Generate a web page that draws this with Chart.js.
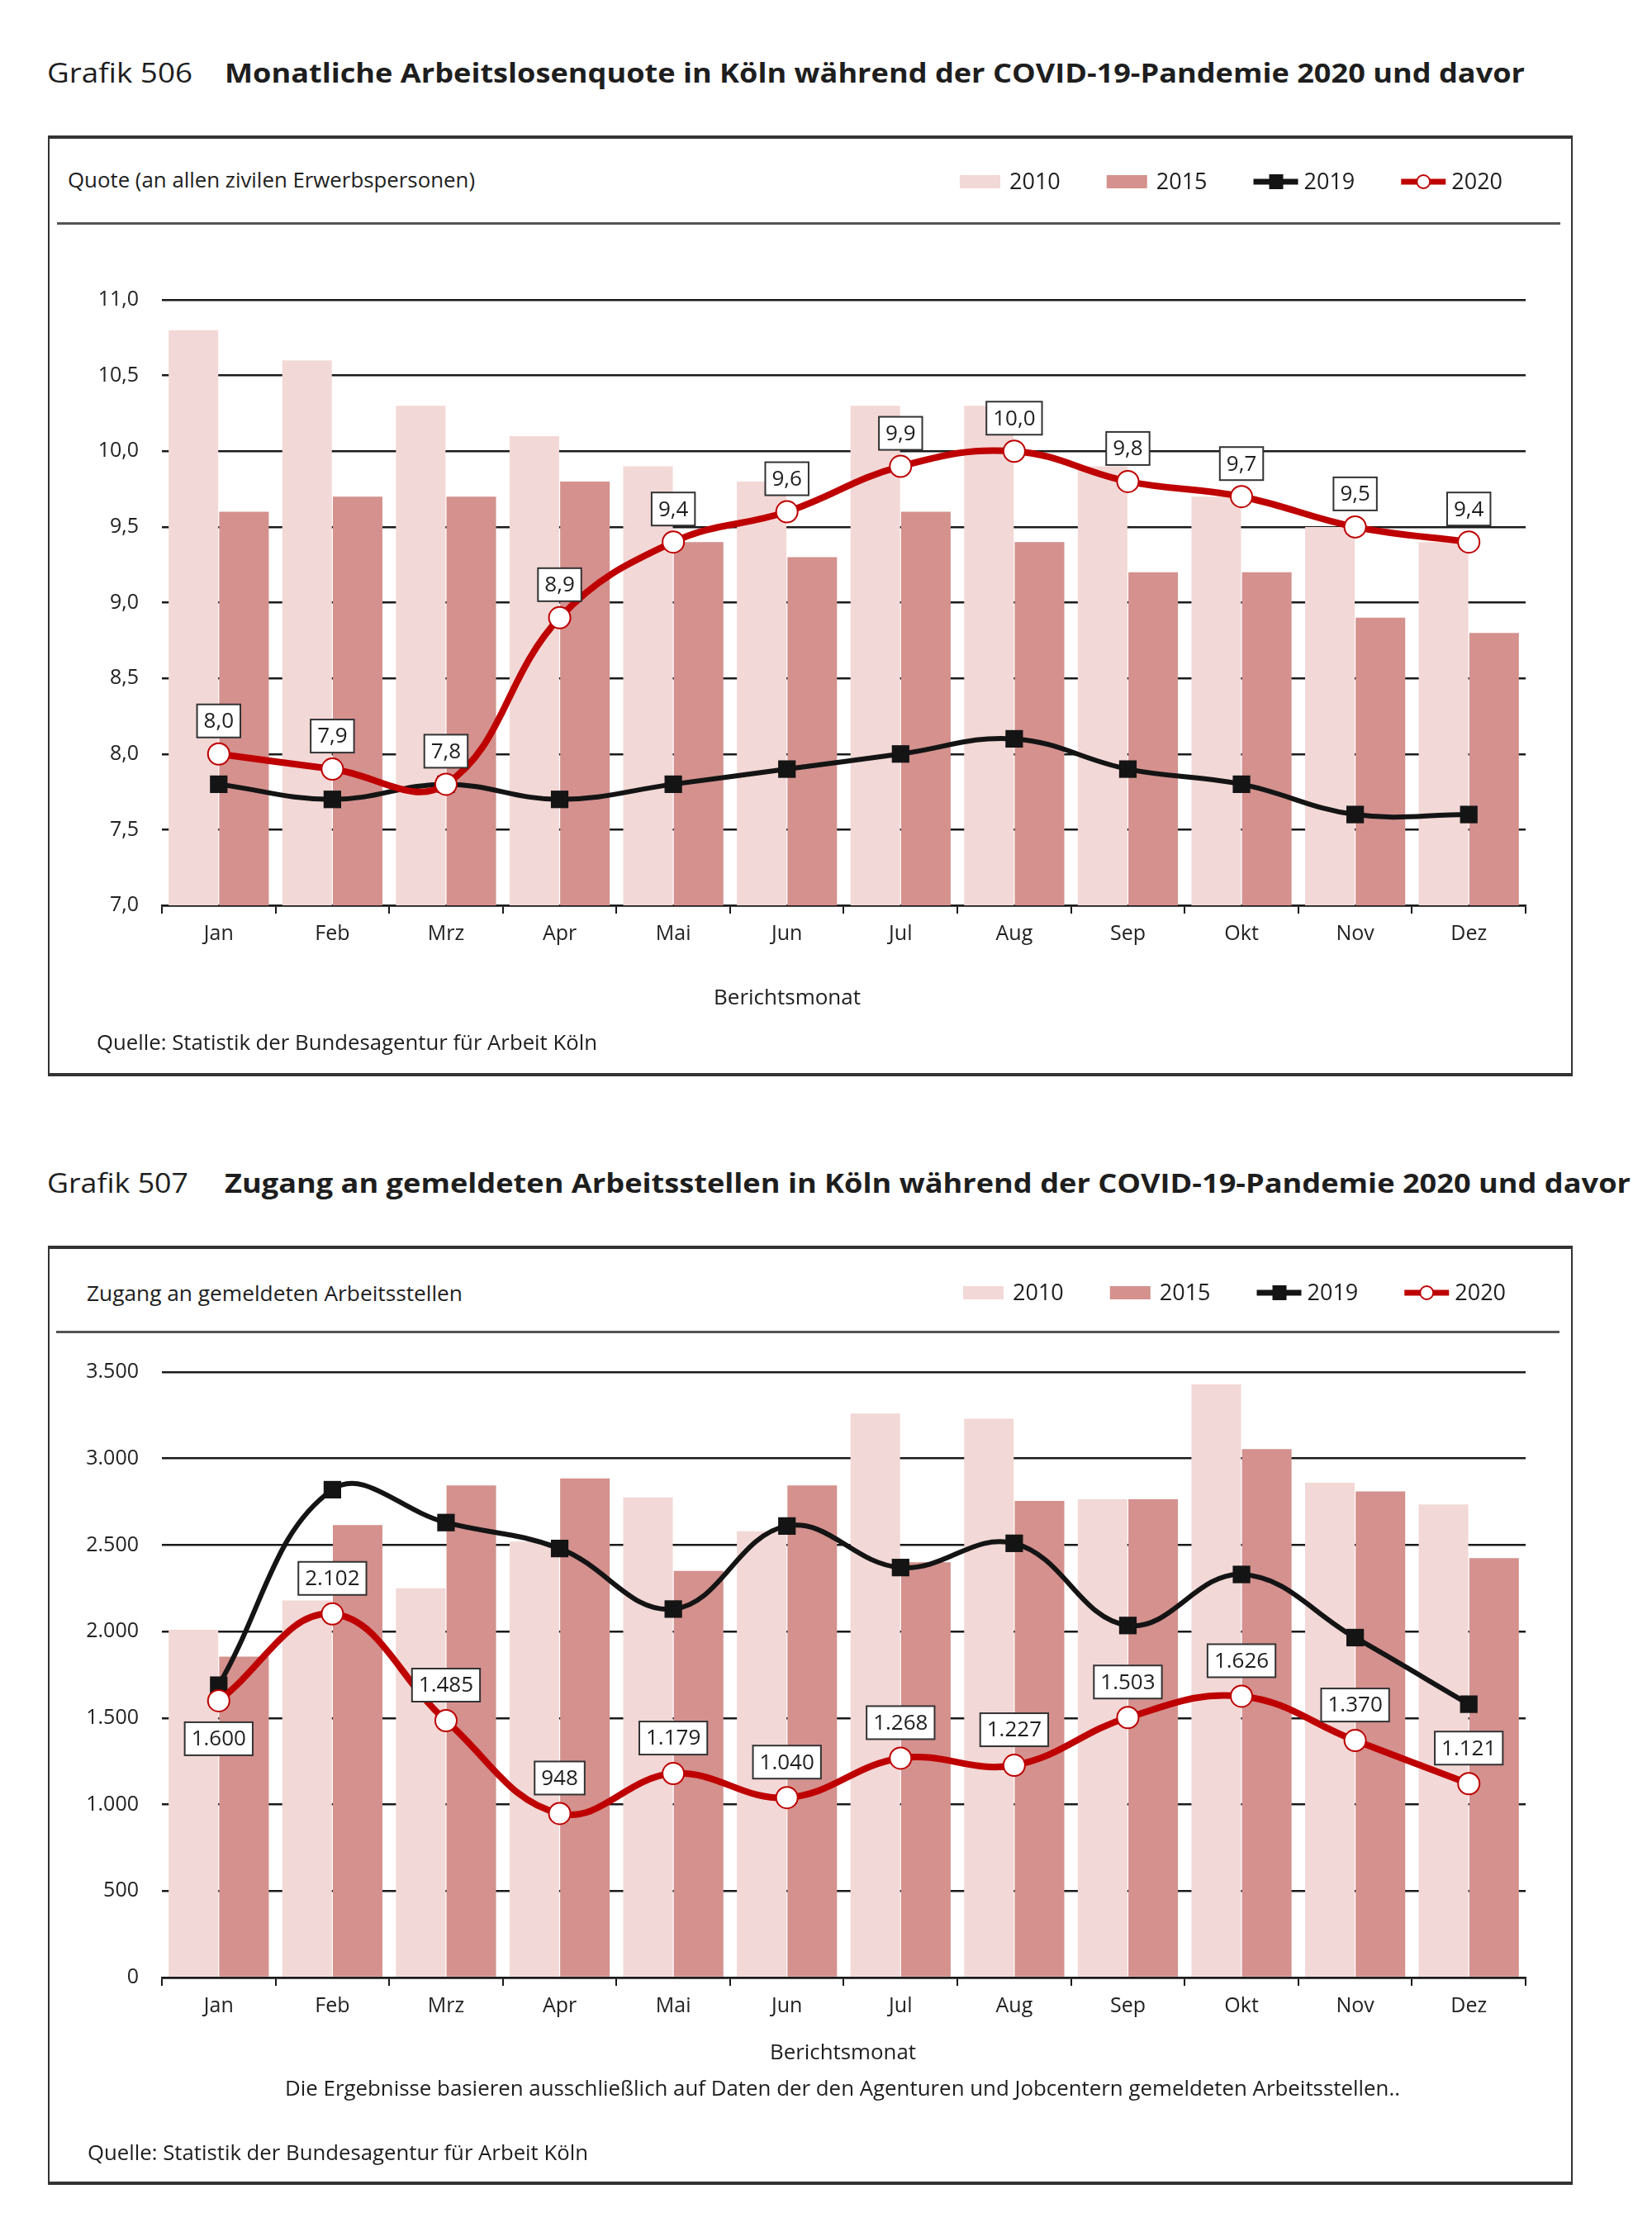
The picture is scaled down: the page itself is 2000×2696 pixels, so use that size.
<!DOCTYPE html>
<html lang="de">
<head>
<meta charset="utf-8">
<title>Grafik 506 / 507</title>
<script src="https://cdn.jsdelivr.net/npm/chart.js@4.4.1/dist/chart.umd.min.js"></script>
<style>
  html, body { margin: 0; padding: 0; background: #fff; }
  #page { position: relative; width: 2000px; height: 2696px; overflow: hidden; }
  .box { position: absolute; box-sizing: border-box; border: 2px solid #333; border-top-width: 4px; border-bottom-width: 4px; }
  .rule { position: absolute; height: 3px; background: #555; }
  .wrap { position: absolute; }
  .txt { position: absolute; white-space: nowrap; font-family: "Open Sans", sans-serif; color: #1e1e1e; line-height: 1.2; transform-origin: 0 50%; }
  .bold { font-weight: 700; }
</style>
</head>
<body>
<div id="page">
  <div class="txt" data-w="176" style="left:57px; top:68px; font-size:33px;">Grafik 506</div>
  <div class="txt bold" data-w="1574" style="left:272px; top:68px; font-size:33px;">Monatliche Arbeitslosenquote in Köln während der COVID-19-Pandemie 2020 und davor</div>

  <div class="box" style="left:58px; top:164px; width:1846px; height:1139px;"></div>
  <div class="txt" data-w="493" style="left:82px; top:202px; font-size:25px;">Quote (an allen zivilen Erwerbspersonen)</div>
  <div class="rule" style="left:69px; top:269px; width:1820px;"></div>
  <div class="wrap" style="left:58px; top:164px; width:1846px; height:1139px;"><canvas id="chart506"></canvas></div>
  <div class="txt" data-w="178" data-cx="953" style="top:1191px; font-size:25px;">Berichtsmonat</div>
  <div class="txt" data-w="606" style="left:117px; top:1246px; font-size:25px;">Quelle: Statistik der Bundesagentur für Arbeit Köln</div>

  <div class="txt" data-w="171" style="left:57px; top:1412px; font-size:33px;">Grafik 507</div>
  <div class="txt bold" data-w="1702" style="left:272px; top:1412px; font-size:33px;">Zugang an gemeldeten Arbeitsstellen in Köln während der COVID-19-Pandemie 2020 und davor</div>

  <div class="box" style="left:58px; top:1508px; width:1846px; height:1137px;"></div>
  <div class="txt" data-w="455" style="left:105px; top:1550px; font-size:25px;">Zugang an gemeldeten Arbeitsstellen</div>
  <div class="rule" style="left:68px; top:1611px; width:1820px;"></div>
  <div class="wrap" style="left:58px; top:1508px; width:1846px; height:1137px;"><canvas id="chart507"></canvas></div>
  <div class="txt" data-w="177" data-cx="1020" style="top:2468px; font-size:25px;">Berichtsmonat</div>
  <div class="txt" data-w="1350" data-cx="1020" style="top:2512px; font-size:25px;">Die Ergebnisse basieren ausschließlich auf Daten der den Agenturen und Jobcentern gemeldeten Arbeitsstellen..</div>
  <div class="txt" data-w="606" style="left:106px; top:2590px; font-size:25px;">Quelle: Statistik der Bundesagentur für Arbeit Köln</div>
</div>

<script>
// Monate (x-Achse)
const months = ['Jan', 'Feb', 'Mrz', 'Apr', 'Mai', 'Jun', 'Jul', 'Aug', 'Sep', 'Okt', 'Nov', 'Dez'];

// Grafik 506: Arbeitslosenquote in %
const quote2010 = [10.8, 10.6, 10.3, 10.1, 9.9, 9.8, 10.3, 10.3, 9.9, 9.7, 9.5, 9.4];
const quote2015 = [9.6, 9.7, 9.7, 9.8, 9.4, 9.3, 9.6, 9.4, 9.2, 9.2, 8.9, 8.8];
const quote2019 = [7.8, 7.7, 7.8, 7.7, 7.8, 7.9, 8.0, 8.1, 7.9, 7.8, 7.6, 7.6];
const quote2020 = [8.0, 7.9, 7.8, 8.9, 9.4, 9.6, 9.9, 10.0, 9.8, 9.7, 9.5, 9.4];
const quoteTicks = [7.0, 7.5, 8.0, 8.5, 9.0, 9.5, 10.0, 10.5, 11.0];

// Grafik 507: Zugang an gemeldeten Arbeitsstellen
const stellen2010 = [2010, 2180, 2250, 2520, 2775, 2580, 3260, 3230, 2765, 3430, 2860, 2735];
const stellen2015 = [1855, 2615, 2845, 2885, 2350, 2845, 2400, 2755, 2765, 3055, 2810, 2425];
const stellen2019 = [1690, 2820, 2630, 2480, 2130, 2610, 2370, 2510, 2035, 2330, 1965, 1580];
const stellen2020 = [1600, 2102, 1485, 948, 1179, 1040, 1268, 1227, 1503, 1626, 1370, 1121];
const stellenTicks = [0, 500, 1000, 1500, 2000, 2500, 3000, 3500];

const C2010 = '#f2d8d6';
const C2015 = '#d4918e';
const C2019 = '#141414';
const C2020 = '#be0000';

Chart.defaults.font.family = '"Open Sans", sans-serif';
Chart.defaults.color = '#222';

function fmtKomma(v) { return v.toFixed(1).replace('.', ','); }
function fmtTausend(v) { return String(Math.round(v)).replace(/\B(?=(\d{3})+(?!\d))/g, '.'); }

// Legende und Wertekästchen
const extras = {
  id: 'extras',
  afterDatasetsDraw(chart, args, opts) {
    const ctx = chart.ctx;
    // Wertekästchen fuer 2020
    const idx = chart.data.datasets.findIndex(d => d.label === '2020');
    const meta = chart.getDatasetMeta(idx);
    const ds = chart.data.datasets[idx];
    ctx.save();
    ctx.font = '26px "Open Sans", sans-serif';
    ctx.textAlign = 'center';
    ctx.textBaseline = 'middle';
    meta.data.forEach((pt, i) => {
      const txt = opts.fmt(ds.data[i]);
      const w = ctx.measureText(txt).width + 16;
      const h = 40;
      const below = opts.below.includes(i);
      const top = below ? pt.y + 26 : pt.y - opts.gap - h;
      ctx.fillStyle = '#fff';
      ctx.fillRect(pt.x - w / 2, top, w, h);
      ctx.lineWidth = 2;
      ctx.strokeStyle = '#333';
      ctx.strokeRect(pt.x - w / 2, top, w, h);
      ctx.fillStyle = '#1e1e1e';
      ctx.fillText(txt, pt.x, top + h / 2 + 1);
    });

    // Legende
    let x = opts.legendX;
    const cy = opts.legendY;
    ctx.textAlign = 'left';
    ctx.font = '27px "Open Sans", sans-serif';
    chart.data.datasets.forEach(d => {
      if (d.type === 'bar') {
        ctx.fillStyle = d.backgroundColor;
        ctx.fillRect(x, cy - 8, 49, 16);
        x += 60;
      } else {
        ctx.strokeStyle = d.borderColor;
        ctx.lineWidth = 7;
        ctx.beginPath();
        ctx.moveTo(x, cy);
        ctx.lineTo(x + 54, cy);
        ctx.stroke();
        if (d.pointStyle === 'rect') {
          ctx.fillStyle = d.borderColor;
          ctx.fillRect(x + 19, cy - 9, 17, 18);
        } else {
          ctx.beginPath();
          ctx.arc(x + 27, cy, 8, 0, Math.PI * 2);
          ctx.fillStyle = '#fff';
          ctx.fill();
          ctx.lineWidth = 2;
          ctx.stroke();
        }
        x += 61;
      }
      ctx.fillStyle = '#1e1e1e';
      ctx.fillText(d.label, x, cy + 1);
      x += ctx.measureText(d.label).width + 56;
    });
    ctx.restore();
  }
};

function makeChart(id, d10, d15, d19, d20, yMin, yMax, step, fmt, padTop, padBottom, extraOpts) {
  return new Chart(document.getElementById(id), {
    data: {
      labels: months,
      datasets: [
        { type: 'bar', label: '2010', data: d10, backgroundColor: C2010, order: 2,
          categoryPercentage: 0.89, barPercentage: 0.98 },
        { type: 'bar', label: '2015', data: d15, backgroundColor: C2015, order: 3,
          categoryPercentage: 0.89, barPercentage: 0.98 },
        { type: 'line', label: '2019', data: d19, borderColor: C2019, borderWidth: 6, tension: 0.4,
          pointStyle: 'rect', pointRadius: 15, pointBackgroundColor: C2019, pointBorderColor: C2019,
          pointBorderWidth: 0, order: 1 },
        { type: 'line', label: '2020', data: d20, borderColor: C2020, borderWidth: 8, tension: 0.4,
          pointStyle: 'circle', pointRadius: 13, pointBackgroundColor: '#fff', pointBorderColor: C2020,
          pointBorderWidth: 2, order: 0 }
      ]
    },
    options: {
      responsive: true,
      maintainAspectRatio: false,
      animation: false,
      devicePixelRatio: 1,
      layout: { padding: { left: 0, right: 57, top: padTop, bottom: padBottom } },
      plugins: {
        legend: { display: false },
        tooltip: { enabled: false },
        extras: extraOpts
      },
      scales: {
        x: {
          offset: true,
          grid: { offset: true, drawOnChartArea: false, drawTicks: true, tickLength: 10, color: '#1a1a1a', lineWidth: 2 },
          border: { display: true, color: '#1a1a1a', width: 2.5 },
          ticks: { font: { size: 25 }, padding: 10, color: '#222' },
          afterFit(scale) { scale.height = 60; }
        },
        y: {
          min: yMin, max: yMax,
          grid: { drawTicks: false, color: '#1a1a1a', lineWidth: 2.5 },
          border: { display: false },
          ticks: { stepSize: step, padding: 28, font: { size: 25 }, color: '#222', callback: v => fmt(v) },
          afterFit(scale) { scale.width = 138; }
        }
      }
    },
    plugins: [extras]
  });
}

makeChart('chart506', quote2010, quote2015, quote2019, quote2020,
  quoteTicks[0], quoteTicks[quoteTicks.length - 1], quoteTicks[1] - quoteTicks[0], fmtKomma, 199, 147,
  { fmt: fmtKomma, below: [], gap: 20, legendX: 1104, legendY: 56 });

makeChart('chart507', stellen2010, stellen2015, stellen2019, stellen2020,
  stellenTicks[0], stellenTicks[stellenTicks.length - 1], stellenTicks[1] - stellenTicks[0], fmtTausend, 153, 191,
  { fmt: fmtTausend, below: [0], gap: 23, legendX: 1108, legendY: 57 });

// Texte auf Zielbreite bringen
function fitTexts() {
  document.querySelectorAll('.txt').forEach(el => {
    el.style.transform = 'none';
    const target = parseFloat(el.dataset.w);
    const w = el.getBoundingClientRect().width;
    const s = target / w;
    if (el.dataset.cx) el.style.left = (parseFloat(el.dataset.cx) - target / 2) + 'px';
    el.style.transform = 'scaleX(' + s + ')';
  });
}
fitTexts();
if (document.fonts && document.fonts.ready) document.fonts.ready.then(fitTexts);
</script>
</body>
</html>
